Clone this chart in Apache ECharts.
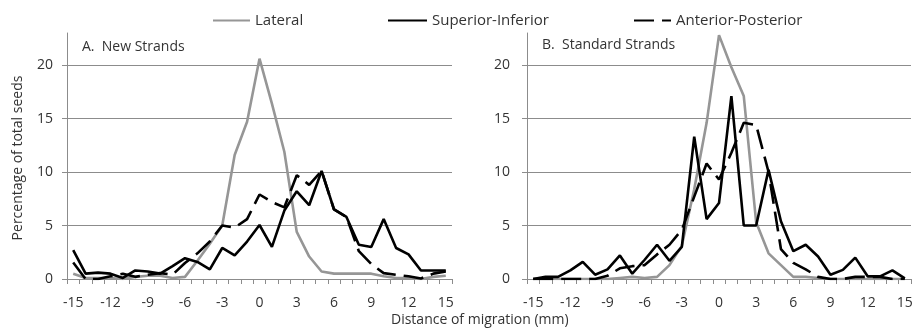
<!DOCTYPE html>
<html>
<head>
<meta charset="utf-8">
<script src="https://cdn.jsdelivr.net/npm/echarts@6/dist/echarts.min.js"></script>
<style>
html,body{margin:0;padding:0;background:#fff;}
#chart{width:916px;height:329px;}
</style>
</head>
<body>
<div id="chart"></div>
<script>
// Categories: distance of migration (mm)
var categories = ['-15','-14','-13','-12','-11','-10','-9','-8','-7','-6','-5','-4','-3','-2','-1','0','1','2','3','4','5','6','7','8','9','10','11','12','13','14','15'];
var seriesNames = ['Lateral', 'Superior-Inferior', 'Anterior-Posterior'];
var panelTitles = ['A.  New Strands', 'B.  Standard Strands'];
var xAxisTitle = 'Distance of migration (mm)';
var yAxisTitle = 'Percentage of total seeds';

// Panel A: New Strands
var newLateral = [0.5,0.1,0.1,0.1,0,0.2,0.3,0.3,0.1,0.2,1.7,3.3,5.0,11.6,14.7,20.6,16.4,11.9,4.4,2.1,0.7,0.5,0.5,0.5,0.5,0.25,0.1,0.1,0,0.2,0.3];
var newSupInf = [2.7,0.5,0.6,0.5,0.1,0.8,0.7,0.5,1.2,1.95,1.6,0.9,2.9,2.2,3.5,5.05,3.0,6.4,8.2,6.9,10.1,6.5,5.8,3.2,3.0,5.6,2.9,2.3,0.8,0.8,0.8];
var newAntPost = [1.55,0,0,0.25,0.5,0.2,0.4,0.55,0.4,1.5,2.4,3.5,5.0,4.8,5.6,7.9,7.2,6.7,9.7,8.8,10.1,6.5,5.8,2.6,1.4,0.55,0.4,0.25,0.05,0.5,0.7];

// Panel B: Standard Strands
var stdLateral = [0,0,0,0,0,0,0,0.1,0.2,0.1,0.2,1.3,3.1,8.4,14.6,22.8,19.8,17.1,5.3,2.4,1.3,0.2,0.2,0.1,0,0,0,0,0,0,0];
var stdSupInf = [0,0.2,0.2,0.8,1.6,0.4,0.9,2.2,0.5,1.8,3.2,1.7,3.0,13.3,5.6,7.1,17.1,5.0,5.0,10.2,5.4,2.6,3.2,2.1,0.4,0.85,2.0,0.25,0.25,0.8,0.05];
var stdAntPost = [0,0,0,0,0,0,0.3,1.0,1.2,1.3,2.3,3.2,4.6,7.7,10.8,9.3,11.8,14.6,14.4,10.0,2.8,1.5,0.9,0.2,0,0,0.2,0.2,0.2,0,0];

var FONT = 'Open Sans';
var TXT = '#333333';
var GRID_C = '#8c8c8c';
var GRAY_LINE = '#969696';

var chart = echarts.init(document.getElementById('chart'), null, {renderer:'canvas'});

var grids = [
  {left: 67, top: 33, width: 385, height: 246},
  {left: 527, top: 33, width: 384, height: 246}
];

function makeX(i){
  return {
    type: 'category', gridIndex: i, data: categories, boundaryGap: true,
    axisLine: {show: true, lineStyle: {color: GRID_C, width: 1}},
    axisTick: {show: true, interval: 0, length: 5, lineStyle: {color: GRID_C}},
    axisLabel: {interval: 2, margin: 17, fontFamily: FONT, fontSize: 14, color: TXT},
    splitLine: {show: false}
  };
}
function makeY(i){
  return {
    type: 'value', gridIndex: i, min: 0, max: 23, interval: 5,
    axisLine: {show: true, lineStyle: {color: GRID_C, width: 1}},
    axisTick: {show: true, length: 5, lineStyle: {color: GRID_C}},
    axisLabel: {margin: i === 0 ? 14 : 17, fontFamily: FONT, fontSize: 14, color: TXT, showMaxLabel: false,
      formatter: function(v){ return v % 5 === 0 ? String(v) : ''; }},
    splitLine: {show: true, showMaxLine: false, lineStyle: {color: GRID_C, width: 1}}
  };
}

var styles = [
  {color: GRAY_LINE, type: 'solid'},
  {color: '#000', type: 'solid'},
  {color: '#000', type: [20, 8]}
];
var panelData = [[newLateral, newSupInf, newAntPost], [stdLateral, stdSupInf, stdAntPost]];

var series = [];
for (var p = 0; p < 2; p++) {
  for (var s = 0; s < 3; s++) {
    series.push({
      name: seriesNames[s], type: 'line', xAxisIndex: p, yAxisIndex: p,
      data: panelData[p][s], symbol: 'none', smooth: false, z: s === 0 ? 2 : 3,
      lineStyle: {color: styles[s].color, width: 2.6, type: styles[s].type},
      itemStyle: {color: styles[s].color},
      animation: false
    });
  }
}

function legendAt(name, left, w){
  return {
    data: [name], left: left, top: 13, padding: 0, itemWidth: w, itemHeight: 14, selectedMode: false,
    itemStyle: {opacity: 0, borderWidth: 0},
    textStyle: {fontFamily: FONT, fontSize: 15, color: TXT}
  };
}

var option = {
  backgroundColor: '#fff',
  animation: false,
  textStyle: {fontFamily: FONT},
  grid: grids,
  xAxis: [makeX(0), makeX(1)],
  yAxis: [makeY(0), makeY(1)],
  legend: [
    legendAt(seriesNames[0], 212, 37),
    legendAt(seriesNames[1], 387, 39),
    legendAt(seriesNames[2], 633, 37)
  ],
  title: [
    {text: panelTitles[0], left: 82, top: 40, padding: 0,
     textStyle: {fontFamily: FONT, fontSize: 14, fontWeight: 'normal', color: TXT}},
    {text: panelTitles[1], left: 542, top: 38, padding: 0,
     textStyle: {fontFamily: FONT, fontSize: 14, fontWeight: 'normal', color: TXT}},
    {text: xAxisTitle, left: 391, top: 313, padding: 0,
     textStyle: {fontFamily: FONT, fontSize: 14, fontWeight: 'normal', color: TXT}}
  ],
  graphic: [
    {type: 'text', x: 18, y: 158, rotation: Math.PI / 2,
     style: {text: yAxisTitle, font: '14px "Open Sans"', fill: TXT, textAlign: 'center', textVerticalAlign: 'middle'}}
  ],
  series: series
};
chart.setOption(option);
</script>
</body>
</html>
